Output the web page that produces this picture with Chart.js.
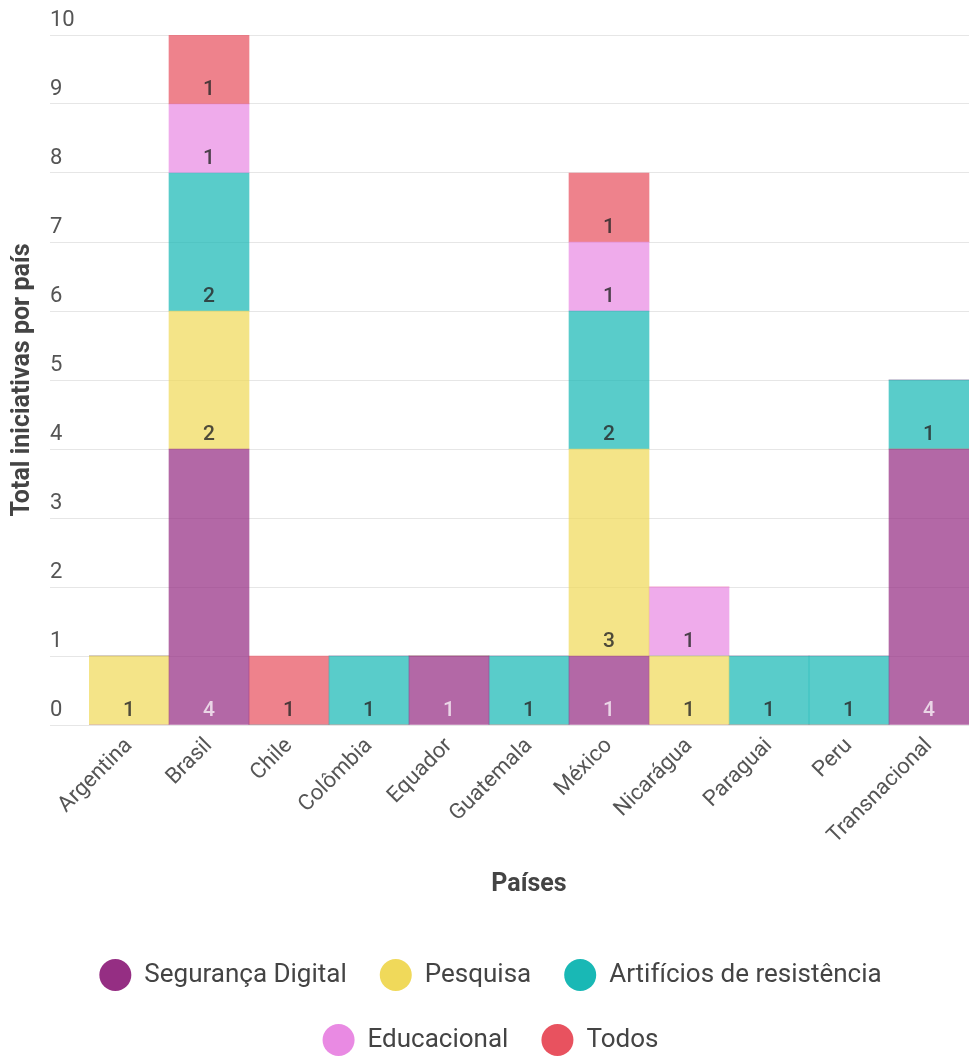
<!DOCTYPE html>
<html>
<head>
<meta charset="utf-8">
<script src="https://cdn.jsdelivr.net/npm/chart.js@4"></script>
<style>
  html, body { margin: 0; padding: 0; background: #fff; }
  #wrap { width: 974px; height: 1056px; }
</style>
</head>
<body>
<div id="wrap"><canvas id="iniciativas"></canvas></div>
<script>
// countries on the x axis
const paises = ["Argentina", "Brasil", "Chile", "Colômbia", "Equador", "Guatemala",
    "México", "Nicarágua", "Paraguai", "Peru", "Transnacional"];

// initiatives per category (one value per country)
const segurancaDigital = [0, 4, 0, 0, 1, 0, 1, 0, 0, 0, 4];
const pesquisa         = [1, 2, 0, 0, 0, 0, 3, 1, 0, 0, 0];
const artificios       = [0, 2, 0, 1, 0, 1, 2, 0, 1, 1, 1];
const educacional      = [0, 1, 0, 0, 0, 0, 1, 1, 0, 0, 0];
const todos            = [0, 1, 1, 0, 0, 0, 1, 0, 0, 0, 0];

const yTicks = [0, 1, 2, 3, 4, 5, 6, 7, 8, 9, 10];

const series = [
    { label: "Segurança Digital", data: segurancaDigital, rgb: "149, 46, 131", light: true },
    { label: "Pesquisa", data: pesquisa, rgb: "240, 217, 90" },
    { label: "Artifícios de resistência", data: artificios, rgb: "25, 184, 181" },
    { label: "Educacional", data: educacional, rgb: "233, 138, 227" },
    { label: "Todos", data: todos, rgb: "232, 82, 95" }
];

// value labels at the bottom of each segment
const segmentLabels = {
    id: "segmentLabels",
    afterDatasetsDraw(chart) {
        const ctx = chart.ctx;
        ctx.save();
        ctx.font = "500 21px Roboto";
        ctx.textAlign = "center";
        ctx.textBaseline = "middle";
        chart.data.datasets.forEach((ds, i) => {
            const meta = chart.getDatasetMeta(i);
            meta.data.forEach((bar, j) => {
                const v = ds.data[j];
                if (!v) return;
                ctx.fillStyle = series[i].light ? "rgba(255,255,255,0.72)" : "rgba(40,40,40,0.82)";
                ctx.fillText(String(v), bar.x, bar.base - 14);
            });
        });
        ctx.restore();
    }
};

// legend sits a bit left of the plot centre
const legendShift = {
    id: "legendShift",
    afterLayout(chart) {
        chart.legend.left -= 19;
        chart.legend.right -= 19;
    }
};

document.addEventListener("DOMContentLoaded", function () {
    Chart.defaults.font.family = "Roboto";

    new Chart(document.getElementById("iniciativas"), {
        type: "bar",
        data: {
            labels: paises,
            datasets: series.map(s => ({
                label: s.label,
                data: s.data,
                backgroundColor: "rgba(" + s.rgb + ", 0.72)",
                borderWidth: 0,
                barPercentage: 1,
                categoryPercentage: 1
            }))
        },
        options: {
            responsive: true,
            maintainAspectRatio: false,
            animation: false,
            layout: { padding: { top: 35, left: 50, right: 5, bottom: -10 } },
            plugins: {
                tooltip: { enabled: false },
                legend: {
                    position: "bottom",
                    labels: {
                        font: { size: 26 },
                        color: "#444",
                        boxWidth: 32,
                        boxHeight: 32,
                        padding: 33,
                        useBorderRadius: true,
                        borderRadius: 16,
                        generateLabels(chart) {
                            return Chart.defaults.plugins.legend.labels.generateLabels(chart).map((item, i) => {
                                item.fillStyle = "rgb(" + series[i].rgb + ")";
                                item.strokeStyle = "rgba(0,0,0,0)";
                                item.lineWidth = 0;
                                return item;
                            });
                        }
                    }
                }
            },
            scales: {
                x: {
                    stacked: true,
                    grid: { display: false, drawTicks: false },
                    border: { display: false },
                    ticks: {
                        minRotation: 45,
                        maxRotation: 45,
                        padding: 8,
                        color: "#555",
                        font: { size: 22 }
                    },
                    title: {
                        display: true,
                        text: "Países",
                        color: "#444",
                        font: { size: 25, weight: "bold" },
                        padding: { top: 0, bottom: 26 }
                    },
                    afterFit(scale) { scale.height = 201; }
                },
                y: {
                    stacked: true,
                    min: 0,
                    max: 10,
                    afterBuildTicks(scale) { scale.ticks = yTicks.map(v => ({ value: v })); },
                    grid: { color: "#e6e6e6", tickLength: 39 },
                    border: { display: false },
                    ticks: {
                        crossAlign: "far",
                        labelOffset: -15,
                        color: "#555",
                        font: { size: 22 }
                    },
                    title: {
                        display: true,
                        text: "Total iniciativas por país",
                        color: "#444",
                        font: { size: 25, weight: "bold" },
                        padding: { top: -42, bottom: 0 }
                    },
                    afterFit(scale) { scale.width = 39; }
                }
            }
        },
        plugins: [segmentLabels, legendShift]
    });
});
</script>
</body>
</html>
